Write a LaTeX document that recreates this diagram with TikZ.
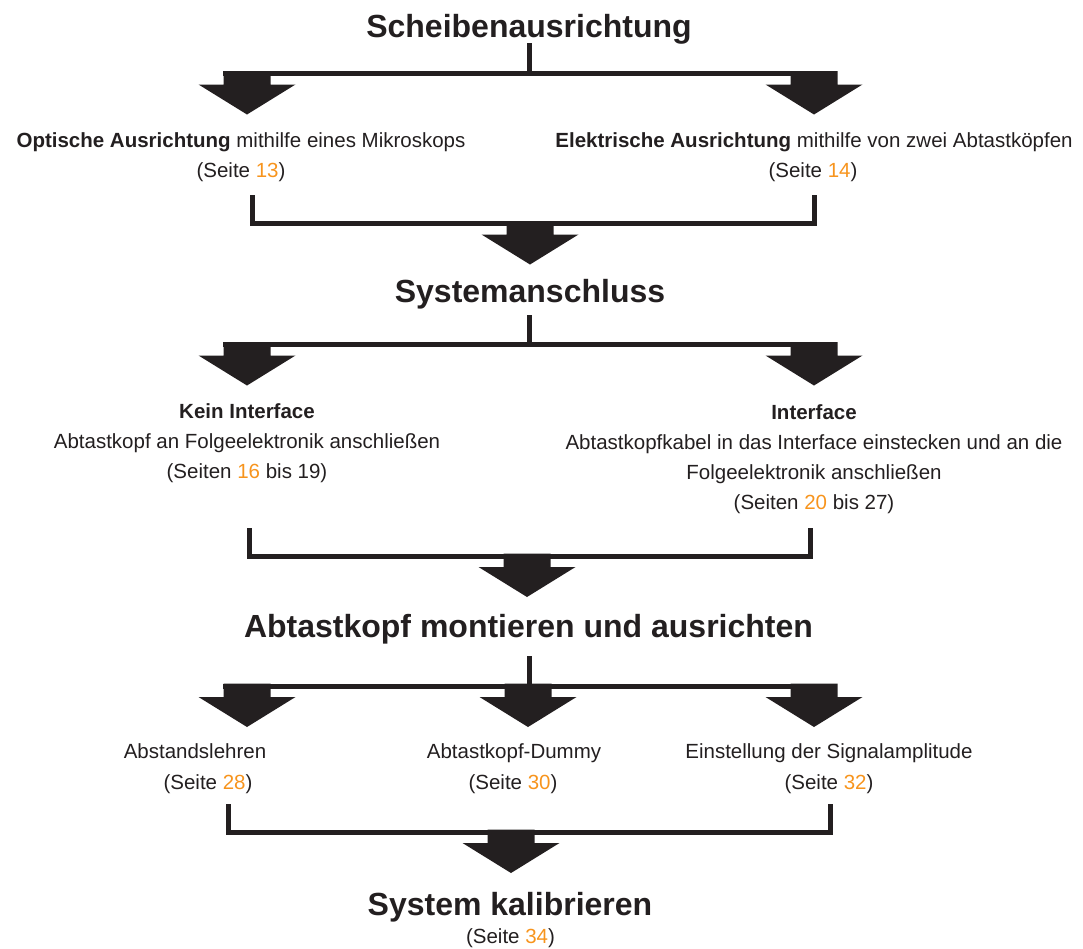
\documentclass[tikz,border=0pt]{standalone}
\usepackage{fontspec}
\setmainfont{Liberation Sans}
\definecolor{ink}{HTML}{231F20}
\definecolor{pg}{HTML}{F7941D}
\newcommand{\pgn}[1]{\textcolor{pg}{#1}}
\tikzset{
  ink line/.style={draw=ink, line width=5pt, line join=miter, line cap=butt},
  title/.style={anchor=base, text=ink, font=\fontsize{32}{38}\selectfont\bfseries, inner sep=0pt},
  label/.style={anchor=base, text=ink, font=\fontsize{20.5}{30.5}\selectfont, inner sep=0pt, align=center},
  blockarrow/.pic={\fill[ink] (-23.5,0) -- (23.5,0) -- (23.5,13.5) -- (48.5,13.5) -- (0,43.5) -- (-48.5,13.5) -- (-23.5,13.5) -- cycle;}
}
\begin{document}
\begin{tikzpicture}[x=1pt,y=-1pt]
\useasboundingbox (0,0) rectangle (1083,948);

% ---------- Row 1 ----------
\node[title] (t1) at (529,37) {Scheibenausrichtung};
\coordinate (v1a) at (529,43);
\coordinate (v1b) at (529,73.5);
\draw[ink line] (v1a) -- (v1b);
\coordinate (h1l) at (223,73.5);
\coordinate (h1r) at (837,73.5);
\draw[ink line] (h1l) -- (h1r);
\pic at (247,71) {blockarrow};
\pic at (814,71) {blockarrow};

\node[label] (o1) at (241,147) {\textbf{Optische Ausrichtung} mithilfe eines Mikroskops};
\node[label] (o2) at (241,177.5) {(Seite \pgn{13})};
\node[label] (e1) at (814,147) {\textbf{Elektrische Ausrichtung} mithilfe von zwei Abtastköpfen};
\node[label] (e2) at (813,177.5) {(Seite \pgn{14})};

% bracket 1
\coordinate (b1l) at (252,195);
\coordinate (b1r) at (814.5,195);
\draw[ink line] (b1l) -- (252,223.5) -- (814.5,223.5) -- (b1r);
\pic at (530,221) {blockarrow};

% ---------- Row 2 ----------
\node[title] (t2) at (530,302) {Systemanschluss};
\coordinate (v2a) at (529,315);
\coordinate (v2b) at (529,344.5);
\draw[ink line] (v2a) -- (v2b);
\coordinate (h2l) at (223,344.5);
\coordinate (h2r) at (837,344.5);
\draw[ink line] (h2l) -- (h2r);
\pic at (247,342) {blockarrow};
\pic at (814,342) {blockarrow};

\node[label] (k1) at (247,418) {\textbf{Kein Interface}};
\node[label] (k2) at (247,448) {Abtastkopf an Folgeelektronik anschließen};
\node[label] (k3) at (247,478) {(Seiten \pgn{16} bis 19)};
\node[label] (i1) at (814,419) {\textbf{Interface}};
\node[label] (i2) at (814,449) {Abtastkopfkabel in das Interface einstecken und an die};
\node[label] (i3) at (814,479) {Folgeelektronik anschließen};
\node[label] (i4) at (814,509) {(Seiten \pgn{20} bis 27)};

% bracket 2
\coordinate (b2l) at (249.5,528);
\coordinate (b2r) at (810.5,528);
\draw[ink line] (b2l) -- (249.5,556) -- (810.5,556) -- (b2r);
\pic at (527,553.5) {blockarrow};

% ---------- Row 3 ----------
\node[title] (t3) at (528.5,637) {Abtastkopf montieren und ausrichten};
\coordinate (v3a) at (529,656);
\coordinate (v3b) at (529,686);
\draw[ink line] (v3a) -- (v3b);
\coordinate (h3l) at (223,686);
\coordinate (h3r) at (837,686);
\draw[ink line] (h3l) -- (h3r);
\pic at (247,683.5) {blockarrow};
\pic at (528,683.5) {blockarrow};
\pic at (814,683.5) {blockarrow};

\node[label] (a1) at (195,758) {Abstandslehren};
\node[label] (a2) at (208,789) {(Seite \pgn{28})};
\node[label] (d1) at (514,758) {Abtastkopf-Dummy};
\node[label] (d2) at (513,789) {(Seite \pgn{30})};
\node[label] (s1) at (829,758) {Einstellung der Signalamplitude};
\node[label] (s2) at (829,789) {(Seite \pgn{32})};

% bracket 3
\coordinate (b3l) at (228,804);
\coordinate (b3r) at (830,804);
\draw[ink line] (b3l) -- (228,832) -- (830,832) -- (b3r);
\pic at (511,829.5) {blockarrow};

% ---------- Row 4 ----------
\node[title] (t4) at (510,915) {System kalibrieren};
\node[label] (t4s) at (510.5,943) {(Seite \pgn{34})};
\end{tikzpicture}
\end{document}
